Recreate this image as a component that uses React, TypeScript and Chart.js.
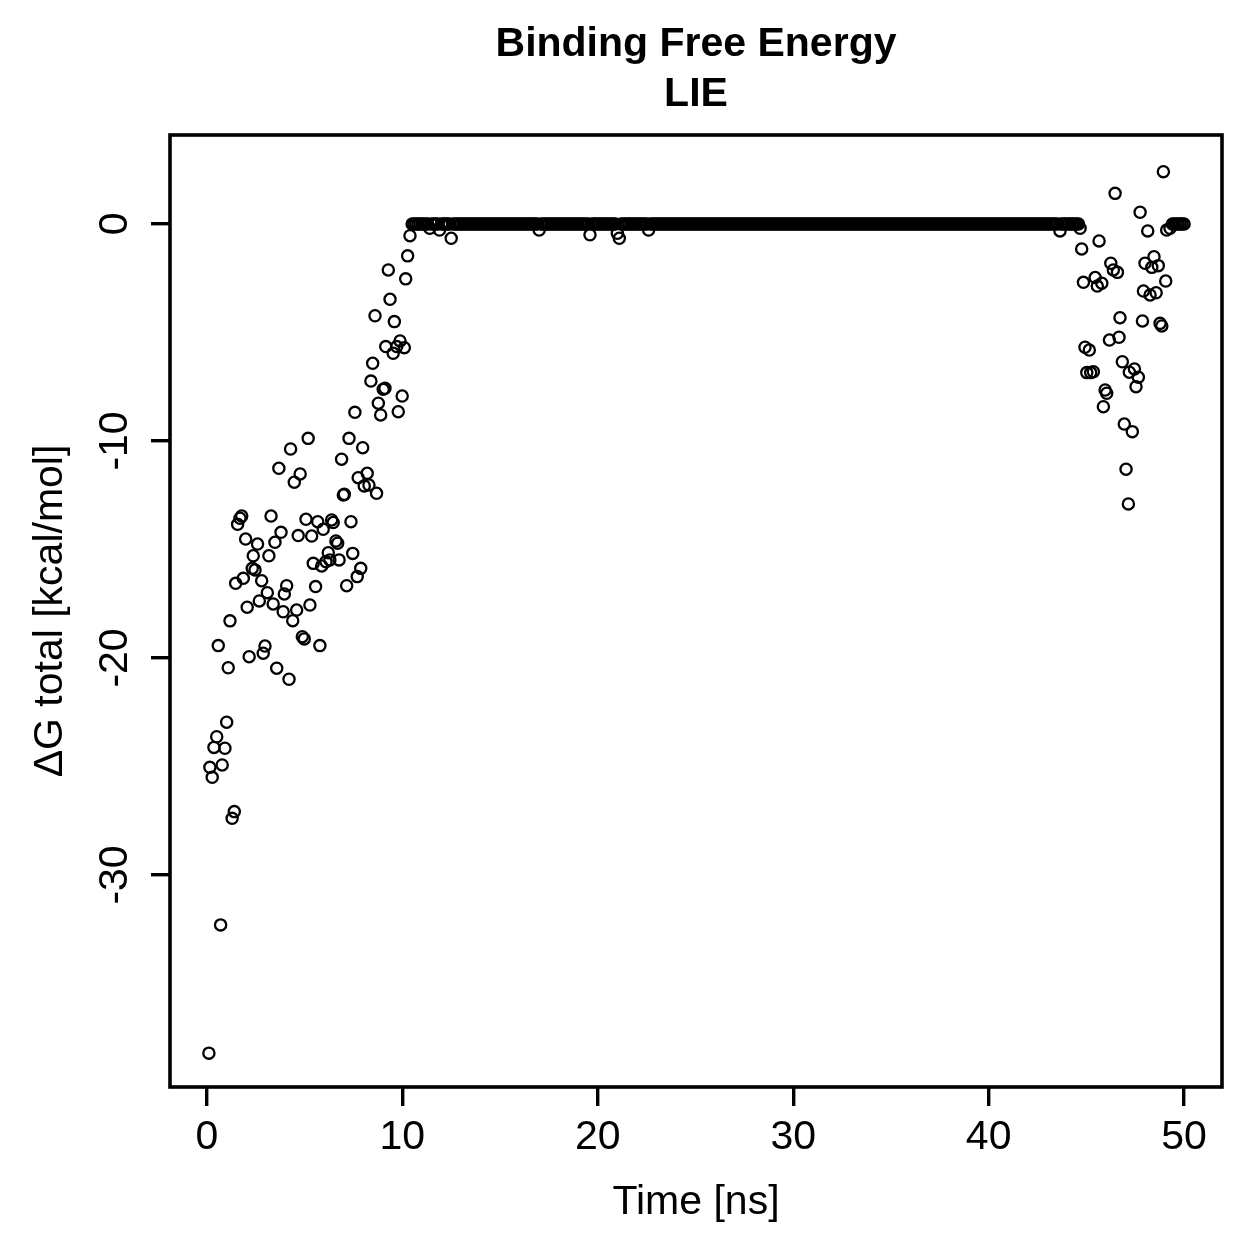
import React, { useEffect, useRef } from "react";
import { Chart, registerables } from "chart.js";

Chart.register(...registerables);

// ---- Data ----
const titleLines = ["Binding Free Energy", "LIE"];
const xAxisLabel = "Time [ns]";
const yAxisLabel = "ΔG total [kcal/mol]";
const xTickValues = [0, 10, 20, 30, 40, 50];
const yTickValues = [-30, -20, -10, 0];

// early, scattered phase (0 - 10.4 ns)
const earlyTimes = [
  1.01, 0.5, 0.36, 0.92, 0.15, 0.78, 0.27, 1.4, 1.29, 0.7, 0.1,
  5.18, 7.27, 4.28, 7.97, 6.89, 3.68, 4.77, 4.47, 7.74, 8.2, 8.05, 8.29, 8.68, 7.03, 6.98,
  1.78, 1.69, 1.57, 3.28, 5.07, 5.67, 6.38, 6.46, 7.37, 3.79, 5.95, 4.67, 5.36, 1.98, 2.59, 3.48, 6.6, 6.69,
  2.37, 3.17, 6.21, 7.46, 5.44, 6.09, 6.29, 6.76, 5.87, 7.87, 2.32, 2.46, 1.86, 1.47, 2.8, 7.69, 7.15, 4.08, 3.96, 5.56,
  3.09, 2.68, 2.06, 3.39, 3.9, 4.59, 5.27, 4.39, 1.18, 4.88, 4.98, 5.78, 0.58, 2.97, 2.88, 2.16, 1.09, 3.57, 4.2,
  10.39, 10.27, 9.28, 10.17, 9.37, 8.6, 9.59, 9.88, 9.15, 9.71, 9.53, 10.1, 8.48, 8.39, 9.02, 9.11, 9.99, 8.77, 7.57, 8.89, 9.79,
];
const earlyDG = [
  -22.96, -23.63, -24.12, -24.16, -25.04, -24.93, -25.5, -27.08, -27.39, -32.3, -38.21,
  -9.88, -9.88, -10.37, -10.31, -10.84, -11.26, -11.52, -11.9, -11.69, -11.49, -12.07, -12.03, -12.41, -12.46, -12.49,
  -13.46, -13.56, -13.84, -13.46, -13.61, -13.72, -13.64, -13.76, -13.72, -14.21, -14.07, -14.36, -14.38, -14.52, -14.75, -14.67, -14.61, -14.71,
  -15.29, -15.29, -15.15, -15.18, -15.64, -15.56, -15.48, -15.48, -15.76, -15.87, -15.87, -15.94, -16.33, -16.56, -16.44, -16.25, -16.67, -16.67, -17.05, -16.71,
  -16.99, -17.37, -17.66, -17.51, -17.87, -17.79, -17.56, -18.28, -18.29, -19.02, -19.12, -19.43, -19.43, -19.45, -19.78, -19.94, -20.45, -20.47, -20.98,
  -0.54, -1.47, -2.12, -2.53, -3.47, -4.23, -4.5, -5.39, -5.65, -5.65, -5.96, -5.7, -6.42, -7.24, -7.62, -7.57, -7.93, -8.26, -8.68, -8.8, -8.65,
];

// plateau frames, all read as 0
const plateauTimes = [
  10.5, 10.6, 10.7, 10.8, 10.9,
  11, 11.1, 11.2, 11.3, 11.5, 11.6, 11.7, 11.8,
  12, 12.1, 12.2, 12.3, 12.4, 12.6, 12.7, 12.8, 12.9,
  13, 13.1, 13.2, 13.3, 13.4, 13.5, 13.6, 13.7, 13.8, 13.9,
  14, 14.1, 14.2, 14.3, 14.4, 14.5, 14.6, 14.7, 14.8, 14.9,
  15, 15.1, 15.2, 15.3, 15.4, 15.5, 15.6, 15.7, 15.8, 15.9,
  16, 16.1, 16.2, 16.3, 16.4, 16.5, 16.6, 16.7, 16.8, 16.9,
  17.1, 17.2, 17.3, 17.4, 17.5, 17.6, 17.7, 17.8, 17.9,
  18, 18.1, 18.2, 18.3, 18.4, 18.5, 18.6, 18.7, 18.8, 18.9,
  19, 19.1, 19.2, 19.3, 19.4, 19.5, 19.7, 19.8, 19.9,
  20, 20.1, 20.2, 20.3, 20.4, 20.5, 20.6, 20.7, 20.8, 20.9,
  21.2, 21.3, 21.4, 21.5, 21.6, 21.7, 21.8, 21.9,
  22, 22.1, 22.2, 22.3, 22.4, 22.5, 22.7, 22.8, 22.9,
  23, 23.1, 23.2, 23.3, 23.4, 23.5, 23.6, 23.7, 23.8, 23.9,
  24, 24.1, 24.2, 24.3, 24.4, 24.5, 24.6, 24.7, 24.8, 24.9,
  25, 25.1, 25.2, 25.3, 25.4, 25.5, 25.6, 25.7, 25.8, 25.9,
  26, 26.1, 26.2, 26.3, 26.4, 26.5, 26.6, 26.7, 26.8, 26.9,
  27, 27.1, 27.2, 27.3, 27.4, 27.5, 27.6, 27.7, 27.8, 27.9,
  28, 28.1, 28.2, 28.3, 28.4, 28.5, 28.6, 28.7, 28.8, 28.9,
  29, 29.1, 29.2, 29.3, 29.4, 29.5, 29.6, 29.7, 29.8, 29.9,
  30, 30.1, 30.2, 30.3, 30.4, 30.5, 30.6, 30.7, 30.8, 30.9,
  31, 31.1, 31.2, 31.3, 31.4, 31.5, 31.6, 31.7, 31.8, 31.9,
  32, 32.1, 32.2, 32.3, 32.4, 32.5, 32.6, 32.7, 32.8, 32.9,
  33, 33.1, 33.2, 33.3, 33.4, 33.5, 33.6, 33.7, 33.8, 33.9,
  34, 34.1, 34.2, 34.3, 34.4, 34.5, 34.6, 34.7, 34.8, 34.9,
  35, 35.1, 35.2, 35.3, 35.4, 35.5, 35.6, 35.7, 35.8, 35.9,
  36, 36.1, 36.2, 36.3, 36.4, 36.5, 36.6, 36.7, 36.8, 36.9,
  37, 37.1, 37.2, 37.3, 37.4, 37.5, 37.6, 37.7, 37.8, 37.9,
  38, 38.1, 38.2, 38.3, 38.4, 38.5, 38.6, 38.7, 38.8, 38.9,
  39, 39.1, 39.2, 39.3, 39.4, 39.5, 39.6, 39.7, 39.8, 39.9,
  40, 40.1, 40.2, 40.3, 40.4, 40.5, 40.6, 40.7, 40.8, 40.9,
  41, 41.1, 41.2, 41.3, 41.4, 41.5, 41.6, 41.7, 41.8, 41.9,
  42, 42.1, 42.2, 42.3, 42.4, 42.5, 42.6, 42.7, 42.8, 42.9,
  43, 43.1, 43.2, 43.3, 43.4, 43.5, 43.7, 43.8, 43.9,
  44, 44.1, 44.2, 44.3, 44.4, 44.5, 44.6,
  49.4, 49.5, 49.6, 49.7, 49.8, 49.9, 50,
];
const plateauDG = 0;

// small dips inside the plateau
const dipTimes = [11.4, 11.9, 12.5, 17.0, 19.6, 21.0, 21.1, 22.6];
const dipDG = [-0.2, -0.28, -0.66, -0.28, -0.5, -0.43, -0.66, -0.28];

// late, scattered phase (43.6 - 49.3 ns)
const lateTimes = [
  48.94, 46.47, 47.75, 43.65, 44.68, 48.14, 49.11, 45.65, 44.76, 46.25,
  48.46, 48.0, 48.68, 48.35, 46.38, 46.59, 44.85, 45.45, 45.56, 45.79,
  49.06, 47.92, 48.26, 48.57, 46.72, 47.87, 48.77, 48.86, 46.18, 46.67,
  44.93, 45.15, 45.02, 45.36, 45.22, 46.84, 47.46, 47.2, 47.66, 47.54,
  45.96, 46.04, 45.87, 46.94, 47.35, 47.03, 47.15, 49.28,
];
const lateDG = [
  2.41, 1.41, 0.54, -0.32, -0.2, -0.32, -0.28, -0.78, -1.15, -1.81,
  -1.51, -1.81, -1.92, -2.0, -2.12, -2.23, -2.69, -2.47, -2.86, -2.73,
  -2.63, -3.09, -3.27, -3.17, -4.32, -4.47, -4.58, -4.7, -5.35, -5.22,
  -5.68, -5.81, -6.85, -6.81, -6.85, -6.35, -6.68, -6.83, -7.06, -7.5,
  -7.65, -7.8, -8.42, -9.22, -9.57, -11.3, -12.9, -0.2,
];

const FONT = '"Liberation Sans", Arial, Helvetica, sans-serif';

// frame around the plot region + two-line bold title centred over it
const framePlugin = {
  id: "plotFrame",
  afterDraw(chart: any) {
    const { ctx, chartArea } = chart;
    const { left, top, right, bottom } = chartArea;
    ctx.save();
    ctx.strokeStyle = "#000";
    ctx.lineWidth = 3.6;
    ctx.strokeRect(left, top, right - left, bottom - top);
    ctx.fillStyle = "#000";
    ctx.font = `bold 41px ${FONT}`;
    ctx.textAlign = "center";
    ctx.textBaseline = "middle";
    const cx = (left + right) / 2;
    titleLines.forEach((line, i) => ctx.fillText(line, cx, 45 + i * 50));
    ctx.restore();
  },
};

export default function App() {
  const canvasRef = useRef<HTMLCanvasElement | null>(null);

  useEffect(() => {
    document.body.style.margin = "0";
    document.body.style.overflow = "hidden";
    const canvas = canvasRef.current;
    if (!canvas) return;

    const points: { x: number; y: number }[] = [];
    earlyTimes.forEach((t, i) => points.push({ x: t, y: earlyDG[i] }));
    plateauTimes.forEach((t) => points.push({ x: t, y: plateauDG }));
    dipTimes.forEach((t, i) => points.push({ x: t, y: dipDG[i] }));
    lateTimes.forEach((t, i) => points.push({ x: t, y: lateDG[i] }));

    const tickFont = { family: FONT, size: 41, lineHeight: 1.2 };

    const chart = new Chart(canvas, {
      type: "scatter",
      data: {
        datasets: [
          {
            data: points,
            pointStyle: "circle",
            pointRadius: 5.6,
            pointHoverRadius: 5.6,
            pointBorderWidth: 2.3,
            borderColor: "#000",
            backgroundColor: "rgba(0,0,0,0)",
            pointBackgroundColor: "rgba(0,0,0,0)",
            pointBorderColor: "#000",
            showLine: false,
          },
        ],
      },
      options: {
        animation: false,
        responsive: false,
        devicePixelRatio: 1,
        events: [],
        layout: { padding: { top: 135, right: 37, bottom: 0, left: 0 } },
        plugins: {
          legend: { display: false },
          tooltip: { enabled: false },
          title: { display: false },
        },
        scales: {
          x: {
            type: "linear",
            min: -1.89,
            max: 51.94,
            afterBuildTicks: (s: any) => {
              s.ticks = xTickValues.map((v) => ({ value: v }));
            },
            afterFit: (s: any) => {
              s.height = 172;
            },
            border: { display: false },
            grid: {
              drawOnChartArea: false,
              drawTicks: true,
              tickLength: 19,
              tickWidth: 3.4,
              tickColor: "#000",
              lineWidth: 3.4,
              color: "#000",
            },
            ticks: {
              color: "#000",
              font: tickFont,
              padding: 7,
              maxRotation: 0,
              minRotation: 0,
              autoSkip: false,
              callback: (v: any) => String(v),
            },
            title: {
              display: true,
              text: xAxisLabel,
              color: "#000",
              font: tickFont,
              padding: { top: 0, bottom: 32 },
            },
          },
          y: {
            type: "linear",
            min: -39.77,
            max: 4.1,
            afterBuildTicks: (s: any) => {
              s.ticks = yTickValues.map((v) => ({ value: v }));
            },
            afterFit: (s: any) => {
              s.width = 170;
            },
            border: { display: false },
            grid: {
              drawOnChartArea: false,
              drawTicks: true,
              tickLength: 19,
              tickWidth: 3.4,
              tickColor: "#000",
              lineWidth: 3.4,
              color: "#000",
            },
            ticks: {
              color: "#000",
              font: tickFont,
              padding: 6,
              minRotation: 90,
              maxRotation: 90,
              crossAlign: "center",
              autoSkip: false,
              callback: (v: any) => String(v),
            },
            title: {
              display: true,
              text: yAxisLabel,
              color: "#000",
              font: tickFont,
              padding: { top: 26, bottom: 0 },
            },
          },
        },
      } as any,
      plugins: [framePlugin],
    });

    return () => {
      chart.destroy();
    };
  }, []);

  return (
    <div style={{ position: "absolute", left: 0, top: 0, width: 1259, height: 1259, background: "#fff" }}>
      <canvas ref={canvasRef} width={1259} height={1259} style={{ width: 1259, height: 1259, display: "block" }} />
    </div>
  );
}
